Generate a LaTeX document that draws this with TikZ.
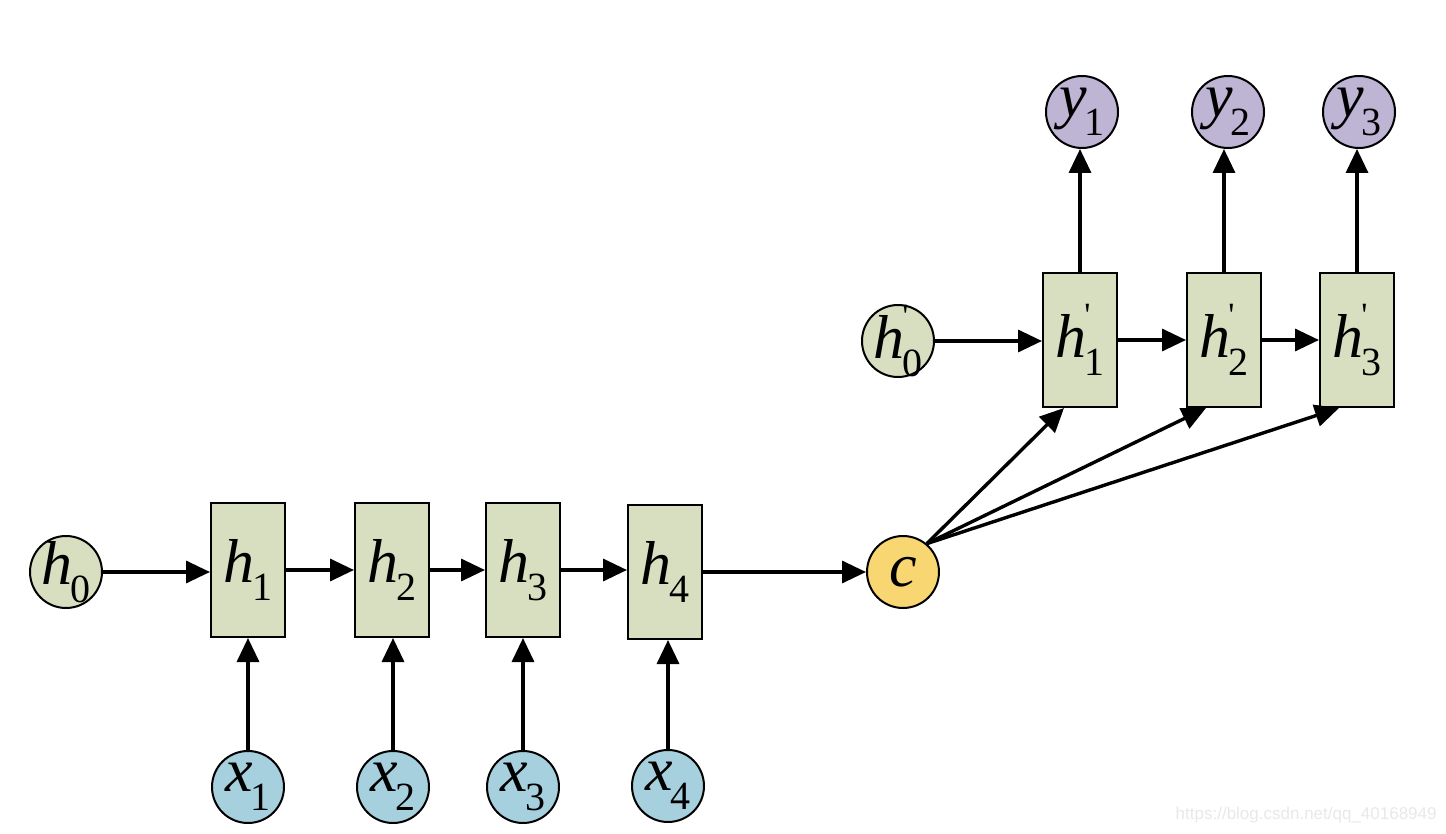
\documentclass[tikz,border=0pt]{standalone}
\usepackage{fontspec}
\setmainfont{Liberation Serif}
\newfontfamily\markfont{Liberation Sans}
\usetikzlibrary{arrows.meta}

\definecolor{cellgreen}{HTML}{D8DFC1}
\definecolor{inblue}{HTML}{A6D0DD}
\definecolor{ctxyellow}{HTML}{F8D772}
\definecolor{outpurple}{HTML}{BEB4D4}

% letter with subscript, and with prime
\newcommand{\vsub}[2]{\textit{#1}\kern-0.04em\raisebox{-0.3em}{\fontsize{20}{20}\selectfont #2}}
\newcommand{\vpri}[2]{\textit{#1}\kern-0.04em\makebox[0pt][l]{\raisebox{0.5em}{\fontsize{17}{17}\selectfont\textquotesingle}}\raisebox{-0.3em}{\fontsize{20}{20}\selectfont #2}}

\begin{document}
\begin{tikzpicture}[x=0.5pt, y=-0.5pt,
    cell/.style={draw, line width=1pt, fill=cellgreen, minimum width=37pt, minimum height=67pt, inner sep=0pt, font=\fontsize{31}{31}\selectfont},
    state/.style={circle, draw, line width=1pt, minimum size=36pt, inner sep=-6pt, font=\fontsize{31}{31}\selectfont},
    flow/.style={line width=1.7pt, -{Triangle[length=12pt, width=11pt]}}]
    \useasboundingbox (0,0) rectangle (1446,834);

    % --- encoder ---
    \node[state, fill=cellgreen] (h0) at (66,572) {\vsub{h}{0}};
    \node[cell] (h1) at (248,570) {\vsub{h}{1}};
    \node[cell] (h2) at (392,570) {\vsub{h}{2}};
    \node[cell] (h3) at (523,570) {\vsub{h}{3}};
    \node[cell] (h4) at (665,572) {\vsub{h}{4}};

    \node[state, fill=inblue] (x1) at (248,787) {\vsub{x}{1}};
    \node[state, fill=inblue] (x2) at (393,787) {\vsub{x}{2}};
    \node[state, fill=inblue] (x3) at (523,787) {\vsub{x}{3}};
    \node[state, fill=inblue] (x4) at (668,786) {\vsub{x}{4}};

    % context vector
    \node[state, fill=ctxyellow] (c) at (903,572) {\textit{c}};

    % --- decoder ---
    \node[state, fill=cellgreen] (hp0) at (898,341) {\vpri{h}{0}};
    \node[cell] (hp1) at (1080,340) {\vpri{h}{1}};
    \node[cell] (hp2) at (1224,340) {\vpri{h}{2}};
    \node[cell] (hp3) at (1357,340) {\vpri{h}{3}};

    \node[state, fill=outpurple] (y1) at (1082,112) {\vsub{y}{1}};
    \node[state, fill=outpurple] (y2) at (1228,112) {\vsub{y}{2}};
    \node[state, fill=outpurple] (y3) at (1359,112) {\vsub{y}{3}};

    % encoder arrows
    \draw[flow] (h0.east) -- (h0.east -| h1.west);
    \draw[flow] (h1.east) -- (h1.east -| h2.west);
    \draw[flow] (h2.east) -- (h2.east -| h3.west);
    \draw[flow] (h3.east) -- (h3.east -| h4.west);
    \draw[flow] (h4.east) -- (h4.east -| c.west);
    \draw[flow] (x1.north) -- (x1.north |- h1.south);
    \draw[flow] (x2.north) -- (x2.north |- h2.south);
    \draw[flow] (x3.north) -- (x3.north |- h3.south);
    \draw[flow] (x4.north) -- (x4.north |- h4.south);

    % decoder arrows
    \draw[flow] (hp0.east) -- (hp0.east -| hp1.west);
    \draw[flow] (hp1.east) -- (hp1.east -| hp2.west);
    \draw[flow] (hp2.east) -- (hp2.east -| hp3.west);
    \draw[flow] (hp1.north) -- (hp1.north |- y1.south);
    \draw[flow] (hp2.north) -- (hp2.north |- y2.south);
    \draw[flow] (hp3.north) -- (hp3.north |- y3.south);

    % c feeds every decoder step
    \draw[flow] (c.50) -- ([xshift=-8]hp1.south);
    \draw[flow] (c.50) -- ([xshift=-9]hp2.south);
    \draw[flow] (c.50) -- ([xshift=-9]hp3.south);

    \node[text=black!9, font=\markfont\fontsize{8.5}{8.5}\selectfont, anchor=east, inner sep=0pt] (mark) at (1437,815) {https://blog.csdn.net/qq\_40168949};
\end{tikzpicture}
\end{document}
